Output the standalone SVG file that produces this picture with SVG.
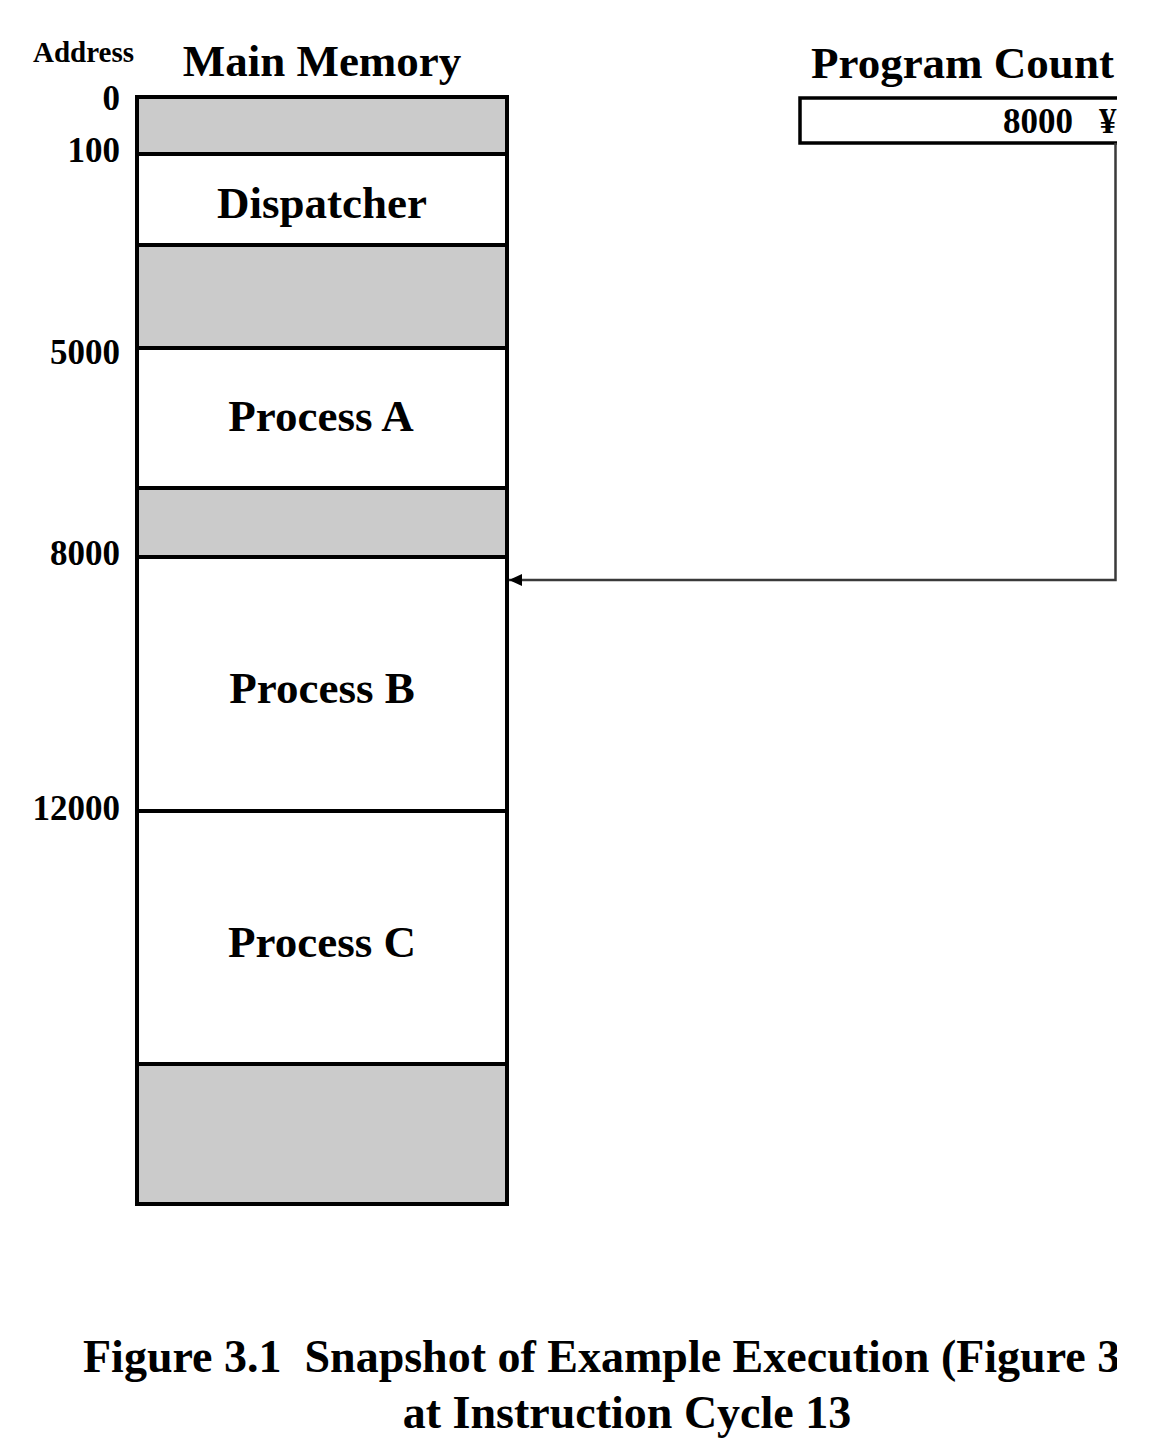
<svg xmlns="http://www.w3.org/2000/svg" width="1150" height="1452" viewBox="0 0 1150 1452">
<defs>
<style>
.t{font-family:"Liberation Serif","Times New Roman",serif;font-weight:bold;fill:#000}
.gray{fill:#cbcbcb}
.wht{fill:#fff}
.div{stroke:#000;stroke-width:4;fill:none}
.conn{stroke:#3a3a3a;stroke-width:2.5;fill:none}
</style>
<clipPath id="clip"><rect x="0" y="0" width="1117" height="1452"/></clipPath>
<marker id="arr" markerWidth="14" markerHeight="12" refX="13" refY="6" orient="auto" markerUnits="userSpaceOnUse">
<path d="M0,0 L13,6 L0,12 Z" fill="#000"/>
</marker>
</defs>
<rect x="0" y="0" width="1150" height="1452" fill="#fff"/>
<g clip-path="url(#clip)">
<g id="labels">
<text class="t" x="33" y="62" font-size="29">Address</text>
<text class="t" x="322" y="76" font-size="45" text-anchor="middle">Main Memory</text>
<text class="t" x="120" y="110" font-size="35" text-anchor="end">0</text>
<text class="t" x="120" y="162" font-size="35" text-anchor="end">100</text>
<text class="t" x="120" y="364" font-size="35" text-anchor="end">5000</text>
<text class="t" x="120" y="565" font-size="35" text-anchor="end">8000</text>
<text class="t" x="120" y="820" font-size="35" text-anchor="end">12000</text>
</g>
<g id="memory">
<rect class="gray" x="137" y="97" width="370" height="57"/>
<rect class="wht" x="137" y="154" width="370" height="91"/>
<rect class="gray" x="137" y="245" width="370" height="103"/>
<rect class="wht" x="137" y="348" width="370" height="140"/>
<rect class="gray" x="137" y="488" width="370" height="69"/>
<rect class="wht" x="137" y="557" width="370" height="507"/>
<rect class="gray" x="137" y="1064" width="370" height="140"/>
<line class="div" x1="137" y1="154" x2="507" y2="154"/>
<line class="div" x1="137" y1="245" x2="507" y2="245"/>
<line class="div" x1="137" y1="348" x2="507" y2="348"/>
<line class="div" x1="137" y1="488" x2="507" y2="488"/>
<line class="div" x1="137" y1="557" x2="507" y2="557"/>
<line class="div" x1="137" y1="811" x2="507" y2="811"/>
<line class="div" x1="137" y1="1064" x2="507" y2="1064"/>
<rect class="div" x="137" y="97" width="370" height="1107"/>
</g>
<g id="dispatcher"><text class="t" x="322" y="218" font-size="45" text-anchor="middle">Dispatcher</text></g>
<g id="processA"><text class="t" x="321" y="431" font-size="45" text-anchor="middle">Process A</text></g>
<g id="processB"><text class="t" x="322" y="703" font-size="45" text-anchor="middle">Process B</text></g>
<g id="processC"><text class="t" x="322" y="957" font-size="45" text-anchor="middle">Process C</text></g>
<g id="programCounter">
<text class="t" x="811" y="78" font-size="45">Program Count</text>
<rect x="800" y="98" width="340" height="45" fill="#fff" stroke="#000" stroke-width="3.5"/>
<text class="t" x="1073" y="133" font-size="35" text-anchor="end">8000</text>
<text class="t" x="1099" y="133" font-size="35">¥</text>
</g>
<g id="connectors">
<path class="conn" d="M1115.5,143 L1115.5,580 L509,580" marker-end="url(#arr)"/>
</g>
<g id="caption">
<text class="t" x="83" y="1372" font-size="46" xml:space="preserve">Figure 3.1  Snapshot of Example Execution (Figure 3</text>
<text class="t" x="627" y="1428" font-size="46" text-anchor="middle">at Instruction Cycle 13</text>
</g>
</g>
</svg>
